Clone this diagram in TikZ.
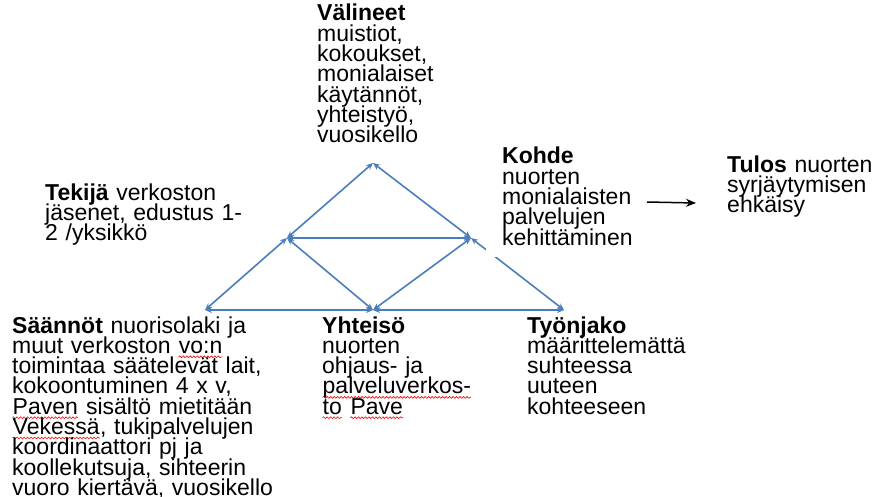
\documentclass[tikz,border=0pt]{standalone}
\usepackage{fontspec}
\setmainfont{Liberation Sans}
\usetikzlibrary{arrows.meta,decorations.pathmorphing}

\definecolor{linkblue}{HTML}{4A7EBB}
\newcommand\wavy[1]{\tikz[baseline=(wv.base)]{\node[inner sep=0pt] (wv) {#1};
  \draw[red,line width=0.6pt,decorate,decoration={snake,amplitude=0.9pt,segment length=3.5pt}]
    ([yshift=-3.5pt]wv.base west) -- ([yshift=-3.5pt]wv.base east);}}

\begin{document}
\begin{tikzpicture}[x=1pt,y=-1pt,
                    txtbox/.style={anchor=base west,inner sep=0pt,align=left,text width=#1pt,
                      font=\fontsize{23}{20.3}\selectfont,
                      execute at begin node={\setlength{\lineskiplimit}{-30pt}}},
                    link/.style={draw=linkblue,line width=1.6pt,
                      {Stealth[length=7pt,width=6pt]}-{Stealth[length=7pt,width=6pt]}},
                    result/.style={draw=black,line width=1.5pt,-{Stealth[length=10pt,width=8pt]}}
                  ]
  \useasboundingbox (0,0) rectangle (874,497);

  % triangle corners
  \coordinate (top)  at (373,163);
  \coordinate (lmid) at (287,238);
  \coordinate (rmid) at (471,238);
  \coordinate (bl)   at (205,310);
  \coordinate (bm)   at (373,310);
  \coordinate (br)   at (564,310);

  \draw[link] (lmid) -- (top);
  \draw[link] (rmid) -- (top);
  \draw[link] (lmid) -- (rmid);
  \draw[link] (lmid) -- (bl);
  \draw[link] (lmid) -- (bm);
  \draw[link] (rmid) -- (bm);
  \draw[link] (rmid) -- (br);
  \draw[link] (bl) -- (bm);
  \draw[link] (bm) -- (br);

  % texts
  \node[txtbox=140] (valineet) at (317,21)
    {\textbf{Välineet}\\muistiot,\\kokoukset,\\monialaiset\\käytännöt,\\yhteistyö,\\vuosikello};
  \node[txtbox=230] (tekija) at (45,200)
    {\textbf{Tekijä} verkoston\\jäsenet, edustus 1-\\2 /yksikkö};
  \node[txtbox=150,fill=white,inner xsep=16pt,inner ysep=12pt] (kohde) at (486,164)
    {\textbf{Kohde}\\nuorten\\monialaisten\\palvelujen\\kehittäminen};
  \node[txtbox=150] (tulos) at (727,172)
    {\textbf{Tulos} nuorten\\syrjäytymisen\\ehkäisy};
  \node[txtbox=300] (saannot) at (12,333)
    {\textbf{Säännöt} nuorisolaki ja\\muut verkoston \wavy{vo:n}\\toimintaa säätelevät lait,\\kokoontuminen 4 x v,\\\wavy{Paven} sisältö mietitään\\\wavy{Vekessä}, tukipalvelujen\\koordinaattori pj ja\\koollekutsuja, sihteerin\\vuoro kiertävä, vuosikello};
  \node[txtbox=190] (yhteiso) at (322,333)
    {\textbf{Yhteisö}\\nuorten\\ohjaus- ja\\\wavy{palveluverkos-}\\\wavy{to} \wavy{Pave}};
  \node[txtbox=170] (tyonjako) at (527,333)
    {\textbf{Työnjako}\\määrittelemättä\\suhteessa\\uuteen\\kohteeseen};

  \coordinate (arrfrom) at (647,202);
  \coordinate (arrto)   at (696,203);
  \draw[result] (arrfrom) -- (arrto);
\end{tikzpicture}
\end{document}
